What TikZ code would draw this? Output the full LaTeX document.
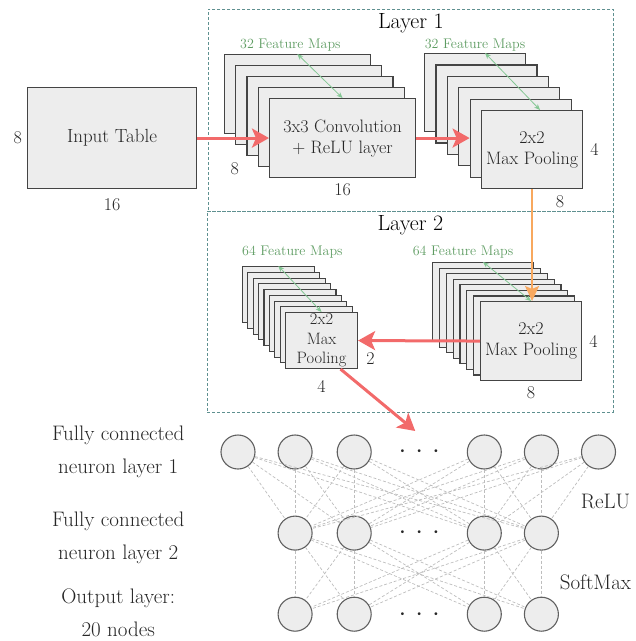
\documentclass[tikz,border=0pt]{standalone}
\usepackage{fontspec}
\usepackage{tikz}
\usetikzlibrary{positioning,arrows.meta,calc}

\definecolor{boxfill}{HTML}{EDEDED}
\definecolor{boxline}{HTML}{444444}
\definecolor{flowred}{HTML}{F26A6A}
\definecolor{floworange}{HTML}{F8A85E}
\definecolor{fmgreen}{HTML}{5E9C62}
\definecolor{fmarrow}{HTML}{84C794}
\definecolor{layerline}{HTML}{5F9090}
\definecolor{linkgray}{HTML}{BDBDBD}

\newcommand{\boxfont}{\fontsize{18}{21}\selectfont}
\newcommand{\fmfont}{\fontsize{14}{15}\selectfont}
\newcommand{\titlefont}{\fontsize{22}{24}\selectfont}
\newcommand{\fcfont}{\fontsize{21}{33}\selectfont}

\tikzset{
  fmap/.style = {draw=boxline, fill=boxfill, line width=1.1pt, inner sep=0pt,
    align=center, font=\boxfont, text=black!85, anchor=north west},
  dim/.style = {font=\boxfont, text=black!85, inner sep=2pt},
  fmlabel/.style = {font=\fmfont, text=fmgreen, inner sep=2pt},
  fmspan/.style = {draw=fmarrow, line width=0.8pt,
    {Stealth[length=6pt,width=5pt]}-{Stealth[length=6pt,width=5pt]}},
  flow/.style = {draw=flowred, line width=3pt, -{Stealth[length=17pt,width=19pt,inset=4pt]}},
  flowdown/.style = {draw=floworange, line width=2.5pt, -{Stealth[length=15pt,width=14pt,inset=3pt]}},
  layerbox/.style = {draw=layerline, line width=0.9pt, dash pattern=on 3pt off 2pt,
    inner sep=0pt, anchor=north west},
  neuron/.style = {circle, draw=boxline!85, fill=boxfill, line width=1.1pt,
    minimum size=34pt, inner sep=0pt},
  link/.style = {draw=linkgray, line width=0.7pt, dash pattern=on 3pt off 2pt},
  fclabel/.style = {font=\fcfont, text=black!85, align=center, inner sep=2pt},
  dots/.style = {font=\fontsize{10}{10}\selectfont, text=black!85, inner sep=0pt},
}

\begin{document}
\begin{tikzpicture}[x=1pt, y=1pt]
  \useasboundingbox (0,0) rectangle (636,-641);

  % the two dashed layer frames
  \node[layerbox, minimum width=405pt, minimum height=202pt] (layer1) at (208,-9) {}; %
  \node[layerbox, minimum width=406pt, minimum height=201pt] (layer2) at (207,-211) {}; %
  \node[font=\titlefont, inner sep=2pt, below=2pt of layer1.north] (title1) {Layer 1}; %
  \node[font=\titlefont, inner sep=2pt, below=2pt of layer2.north] (title2) {Layer 2}; %

  % input
  \node[fmap, minimum width=169pt, minimum height=101pt, font=\fontsize{19}{21}\selectfont] (input) at (27,-87) {Input Table}; %
  \node[dim, left=3pt of input] (inputh) {8}; %
  \node[dim, below=7pt of input] (inputw) {16}; %

  % layer 1: convolution sheets, back ones first
  \coordinate (conv1pos) at (269,-98);
  \foreach \i in {4,...,1}
    \node[fmap, minimum width=146pt, minimum height=79pt] (conv1-\i) at ($(conv1pos)+(-11.3*\i,11*\i)$) {};
  \node[fmap, minimum width=146pt, minimum height=79pt] (conv1) at (conv1pos) {3x3 Convolution\\+ ReLU layer}; %
  \node[dim, left=28pt of conv1.south west, yshift=9pt] (conv1h) {8}; %
  \node[dim, below=3pt of conv1] (conv1w) {16}; %
  \node[fmlabel, above=1pt of conv1-4.north, xshift=-7pt] (conv1fm) {32 Feature Maps}; %
  \draw[fmspan] (conv1-4.north) -- (conv1.north); %

  % layer 1: pooling sheets
  \coordinate (pool1pos) at (481,-110);
  \foreach \i in {5,...,1}
    \node[fmap, minimum width=101pt, minimum height=78pt] (pool1-\i) at ($(pool1pos)+(-11.4*\i,11.4*\i)$) {};
  \node[fmap, minimum width=101pt, minimum height=78pt] (pool1) at (pool1pos) {2x2\\Max Pooling}; %
  \node[dim, right=5pt of pool1] (pool1h) {4}; %
  \node[dim, below=4pt of pool1, xshift=28pt] (pool1w) {8}; %
  \node[fmlabel, above=0pt of pool1-5.north] (pool1fm) {32 Feature Maps}; %
  \draw[fmspan] ([xshift=10pt]pool1-5.north) -- ([xshift=8pt]pool1.north); %

  % layer 2: big pooling sheets
  \coordinate (pool2pos) at (480,-301);
  \foreach \i in {7,...,1}
    \node[fmap, minimum width=101pt, minimum height=79pt] (pool2-\i) at ($(pool2pos)+(-6.86*\i,5.57*\i)$) {};
  \node[fmap, minimum width=101pt, minimum height=79pt] (pool2) at (pool2pos) {2x2\\Max Pooling}; %
  \node[dim, right=5pt of pool2] (pool2h) {4}; %
  \node[dim, below=3pt of pool2] (pool2w) {8}; %
  \node[fmlabel, above=2pt of pool2-7.north, xshift=-20pt] (pool2fm) {64 Feature Maps}; %
  \draw[fmspan] (pool2-7.north) -- (pool2.north); %

  % layer 2: small pooling sheets
  \coordinate (pool3pos) at (285,-312);
  \foreach \i in {8,...,1}
    \node[fmap, minimum width=72pt, minimum height=56pt] (pool3-\i) at ($(pool3pos)+(-5.4*\i,5.75*\i)$) {};
  \node[fmap, minimum width=72pt, minimum height=56pt, font=\fontsize{16.5}{19.5}\selectfont] (pool3) at (pool3pos) {2x2\\Max\\Pooling}; %
  \node[dim, right=6pt of pool3, yshift=-18pt] (pool3h) {2}; %
  \node[dim, below=9pt of pool3] (pool3w) {4}; %
  \node[fmlabel, above=6pt of pool3-8.north, xshift=14pt] (pool3fm) {64 Feature Maps}; %
  \draw[fmspan] (pool3-8.north) -- (pool3.north); %

  % fully connected neurons
  \node[neuron] (h1-1) at (238,-452) {}; %
  \node[neuron, right=22pt of h1-1] (h1-2) {}; %
  \node[neuron, right=24pt of h1-2] (h1-3) {}; %
  \node[neuron, right=95pt of h1-3] (h1-4) {}; %
  \node[neuron, right=22pt of h1-4] (h1-5) {}; %
  \node[neuron, right=22pt of h1-5] (h1-6) {}; %
  \node[neuron, below=46pt of h1-2] (h2-1) {}; %
  \node[neuron, below=46pt of h1-3] (h2-2) {}; %
  \node[neuron, below=46pt of h1-4] (h2-3) {}; %
  \node[neuron, below=46pt of h1-5] (h2-4) {}; %
  \node[neuron, below=46pt of h2-1] (out-1) {}; %
  \node[neuron, below=46pt of h2-2] (out-2) {}; %
  \node[neuron, below=46pt of h2-3] (out-3) {}; %
  \node[neuron, below=46pt of h2-4] (out-4) {}; %
  \node[dots] (dots1) at ($(h1-3)!0.5!(h1-4)$) {\textbullet\hspace{9pt}\textbullet\hspace{9pt}\textbullet}; %
  \node[dots] (dots2) at ($(h2-2)!0.5!(h2-3)$) {\textbullet\hspace{9pt}\textbullet\hspace{9pt}\textbullet}; %
  \node[dots] (dots3) at ($(out-2)!0.5!(out-3)$) {\textbullet\hspace{9pt}\textbullet\hspace{9pt}\textbullet}; %

  \foreach \i in {1,...,6}
    \foreach \j in {1,...,4}
      \draw[link] (h1-\i) -- (h2-\j);
  \foreach \i in {1,...,4}
    \foreach \j in {1,...,4}
      \draw[link] (h2-\i) -- (out-\j);

  \node[fclabel, left=34pt of h1-1] (fc1lab) {Fully connected\\neuron layer 1}; %
  \node[fclabel, yshift=-5pt] (fc2lab) at (fc1lab |- h2-1) {Fully connected\\neuron layer 2}; %
  \node[fclabel, yshift=1pt] (outlab) at (fc1lab |- out-1) {Output layer:\\20 nodes}; %
  \node[fclabel, below=22pt of h1-6, xshift=7pt] (relu) {ReLU}; %
  \node[fclabel, below=62pt of relu, xshift=-10pt] (softmax) {SoftMax}; %

  % data flow
  \coordinate (fcin) at ($(dots1)+(-4,21)$);
  \draw[flow] (input) -- (conv1); %
  \draw[flow] (conv1.east) -- (conv1.east -| pool1-1.west); %
  \draw[flowdown] (pool1.south) -- (pool1.south |- pool2.north); %
  \draw[flow] (pool2.west) -- (pool3.east); %
  \draw[flow] ([xshift=19pt]pool3.south) -- (fcin); %
\end{tikzpicture}
\end{document}
